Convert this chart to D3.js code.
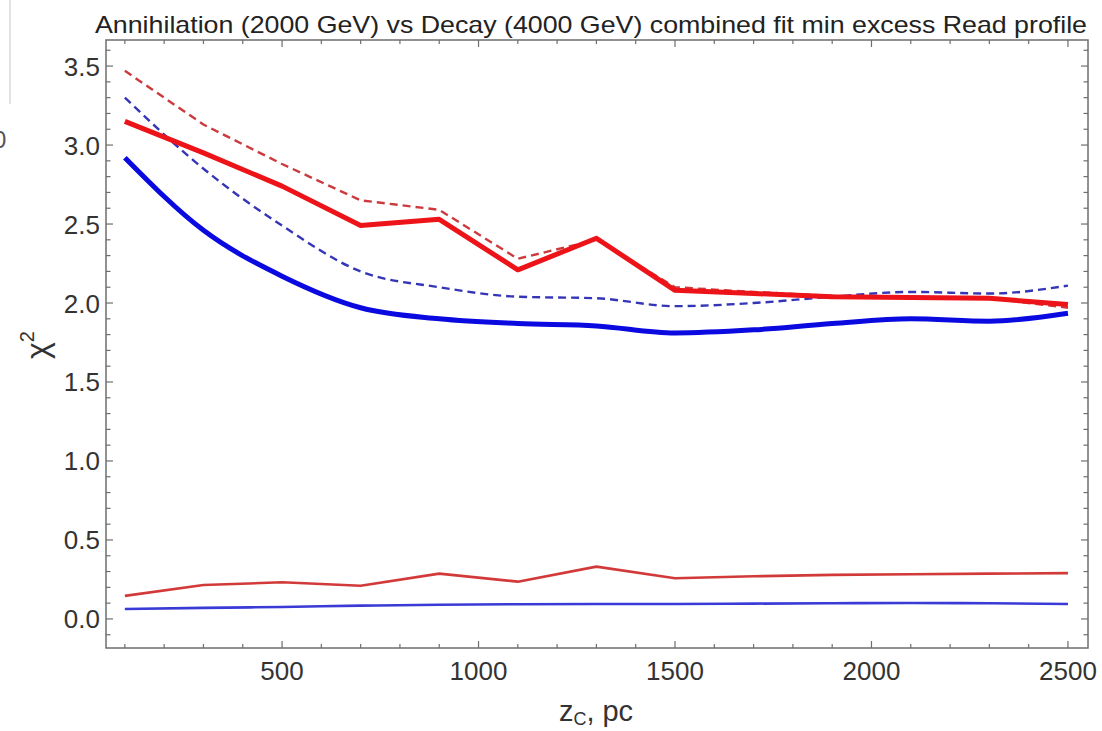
<!DOCTYPE html>
<html>
<head>
<meta charset="utf-8">
<script src="https://cdn.jsdelivr.net/npm/d3@7"></script>
<style>
  html, body { margin: 0; padding: 0; background: #fff; }
  svg { display: block; }
  text { font-family: "Liberation Sans", Arial, sans-serif; }
</style>
</head>
<body>
<svg id="chart" width="1102" height="731"></svg>
<script>
// ---- data ----
const zValues = [100, 300, 500, 700, 900, 1100, 1300, 1500, 1700, 1900, 2100, 2300, 2500];
const redThick   = [3.15, 2.95, 2.74, 2.49, 2.53, 2.21, 2.41, 2.08, 2.06, 2.04, 2.035, 2.03, 1.99];
const redDashed  = [3.47, 3.13, 2.88, 2.65, 2.59, 2.28, 2.40, 2.10, 2.07, 2.045, 2.035, 2.03, 1.97];
const blueThick  = [2.92, 2.46, 2.17, 1.97, 1.90, 1.87, 1.855, 1.81, 1.83, 1.87, 1.90, 1.885, 1.935];
const blueDashed = [3.30, 2.85, 2.49, 2.20, 2.10, 2.04, 2.03, 1.98, 2.00, 2.04, 2.07, 2.06, 2.11];
const redThin    = [0.146, 0.215, 0.232, 0.21, 0.287, 0.236, 0.331, 0.258, 0.27, 0.279, 0.283, 0.287, 0.29];
const blueThin   = [0.063, 0.07, 0.076, 0.084, 0.09, 0.093, 0.095, 0.095, 0.097, 0.099, 0.101, 0.099, 0.095];
const xMajorTicks = [500, 1000, 1500, 2000, 2500];
const yMajorTicks = [0.0, 0.5, 1.0, 1.5, 2.0, 2.5, 3.0, 3.5];
const titleText = "Annihilation (2000 GeV) vs Decay (4000 GeV) combined fit min excess Read profile";

// ---- layout ----
const svg = d3.select("#chart");
const L = 106, R = 1088, T = 40, B = 648;
const x = d3.scaleLinear().domain([52, 2551]).range([L, R]);
const y = d3.scaleLinear().domain([-0.184, 3.665]).range([B, T]);

const frameColor = "#6e6e6e";
const textColor = "#333";

// faint artifact at left edge (neighbouring panel)
svg.append("line").attr("x1", 10).attr("x2", 10).attr("y1", 0).attr("y2", 104)
  .attr("stroke", "#d8d8d8").attr("stroke-width", 1.5);
svg.append("text").attr("x", -7).attr("y", 148).attr("font-size", 24)
  .attr("fill", "#555").text("0");

// ---- ticks ----
const xMinor = d3.range(100, 2501, 100);
const yMinor = d3.range(-1, 37).map(d => d / 10);
const g = svg.append("g");
function isMajorX(v) { return v % 500 === 0; }
function isMajorY(v) { return Math.abs(v * 2 - Math.round(v * 2)) < 1e-6; }

xMinor.forEach(v => {
  const len = isMajorX(v) ? 7 : 4;
  g.append("line").attr("x1", x(v)).attr("x2", x(v)).attr("y1", B).attr("y2", B - len)
    .attr("stroke", frameColor).attr("stroke-width", 1.2);
  g.append("line").attr("x1", x(v)).attr("x2", x(v)).attr("y1", T).attr("y2", T + len)
    .attr("stroke", frameColor).attr("stroke-width", 1.2);
});
yMinor.forEach(v => {
  const len = isMajorY(v) ? 7 : 4.5;
  g.append("line").attr("x1", L).attr("x2", L + len).attr("y1", y(v)).attr("y2", y(v))
    .attr("stroke", frameColor).attr("stroke-width", 1.2);
  g.append("line").attr("x1", R).attr("x2", R - len).attr("y1", y(v)).attr("y2", y(v))
    .attr("stroke", frameColor).attr("stroke-width", 1.2);
});

// frame
svg.append("rect").attr("x", L).attr("y", T).attr("width", R - L).attr("height", B - T)
  .attr("fill", "none").attr("stroke", frameColor).attr("stroke-width", 1.5);

// tick labels
xMajorTicks.forEach(v => {
  svg.append("text").attr("x", x(v)).attr("y", 680).attr("text-anchor", "middle")
    .attr("font-size", 26).attr("fill", textColor).text(v);
});
yMajorTicks.forEach(v => {
  svg.append("text").attr("x", 100).attr("y", y(v) + 9.5).attr("text-anchor", "end")
    .attr("font-size", 26).attr("fill", textColor).text(v.toFixed(1));
});

// title
svg.append("text").attr("x", 591).attr("y", 33).attr("text-anchor", "middle")
  .attr("font-size", 24).attr("fill", "#222")
  .attr("textLength", 992).attr("lengthAdjust", "spacingAndGlyphs")
  .text(titleText);

// axis labels
const xl = svg.append("text").attr("x", 596).attr("y", 721).attr("text-anchor", "middle")
  .attr("font-size", 29).attr("fill", textColor);
xl.append("tspan").text("z");
xl.append("tspan").attr("font-size", 18).attr("dy", 4).text("C");
xl.append("tspan").attr("dy", -4).text(", pc");

const yl = svg.append("text").attr("transform", "translate(48,345) rotate(-90)")
  .attr("text-anchor", "middle").attr("font-size", 32).attr("fill", textColor);
yl.append("tspan").text("χ");
yl.append("tspan").attr("font-size", 20).attr("dy", -14).text("2");

// ---- lines ----
const plot = svg.append("g");
function drawLine(vals, color, width, dash, curve) {
  const line = d3.line().x((d, i) => x(zValues[i])).y(d => y(d)).curve(curve);
  plot.append("path").datum(vals).attr("d", line)
    .attr("fill", "none").attr("stroke", color).attr("stroke-width", width)
    .attr("stroke-linejoin", "round").attr("stroke-linecap", "butt")
    .attr("stroke-dasharray", dash);
}
drawLine(blueThin, "#3a3ad6", 2.6, null, d3.curveMonotoneX);
drawLine(redThin, "#d23a3a", 2.6, null, d3.curveLinear);
drawLine(blueDashed, "#3535b8", 2.4, "8,5", d3.curveMonotoneX);
drawLine(blueThick, "#0a0ae0", 5, null, d3.curveMonotoneX);
drawLine(redDashed, "#cc3a3e", 2.4, "8,5", d3.curveLinear);
drawLine(redThick, "#ec1418", 5, null, d3.curveLinear);
</script>
</body>
</html>
